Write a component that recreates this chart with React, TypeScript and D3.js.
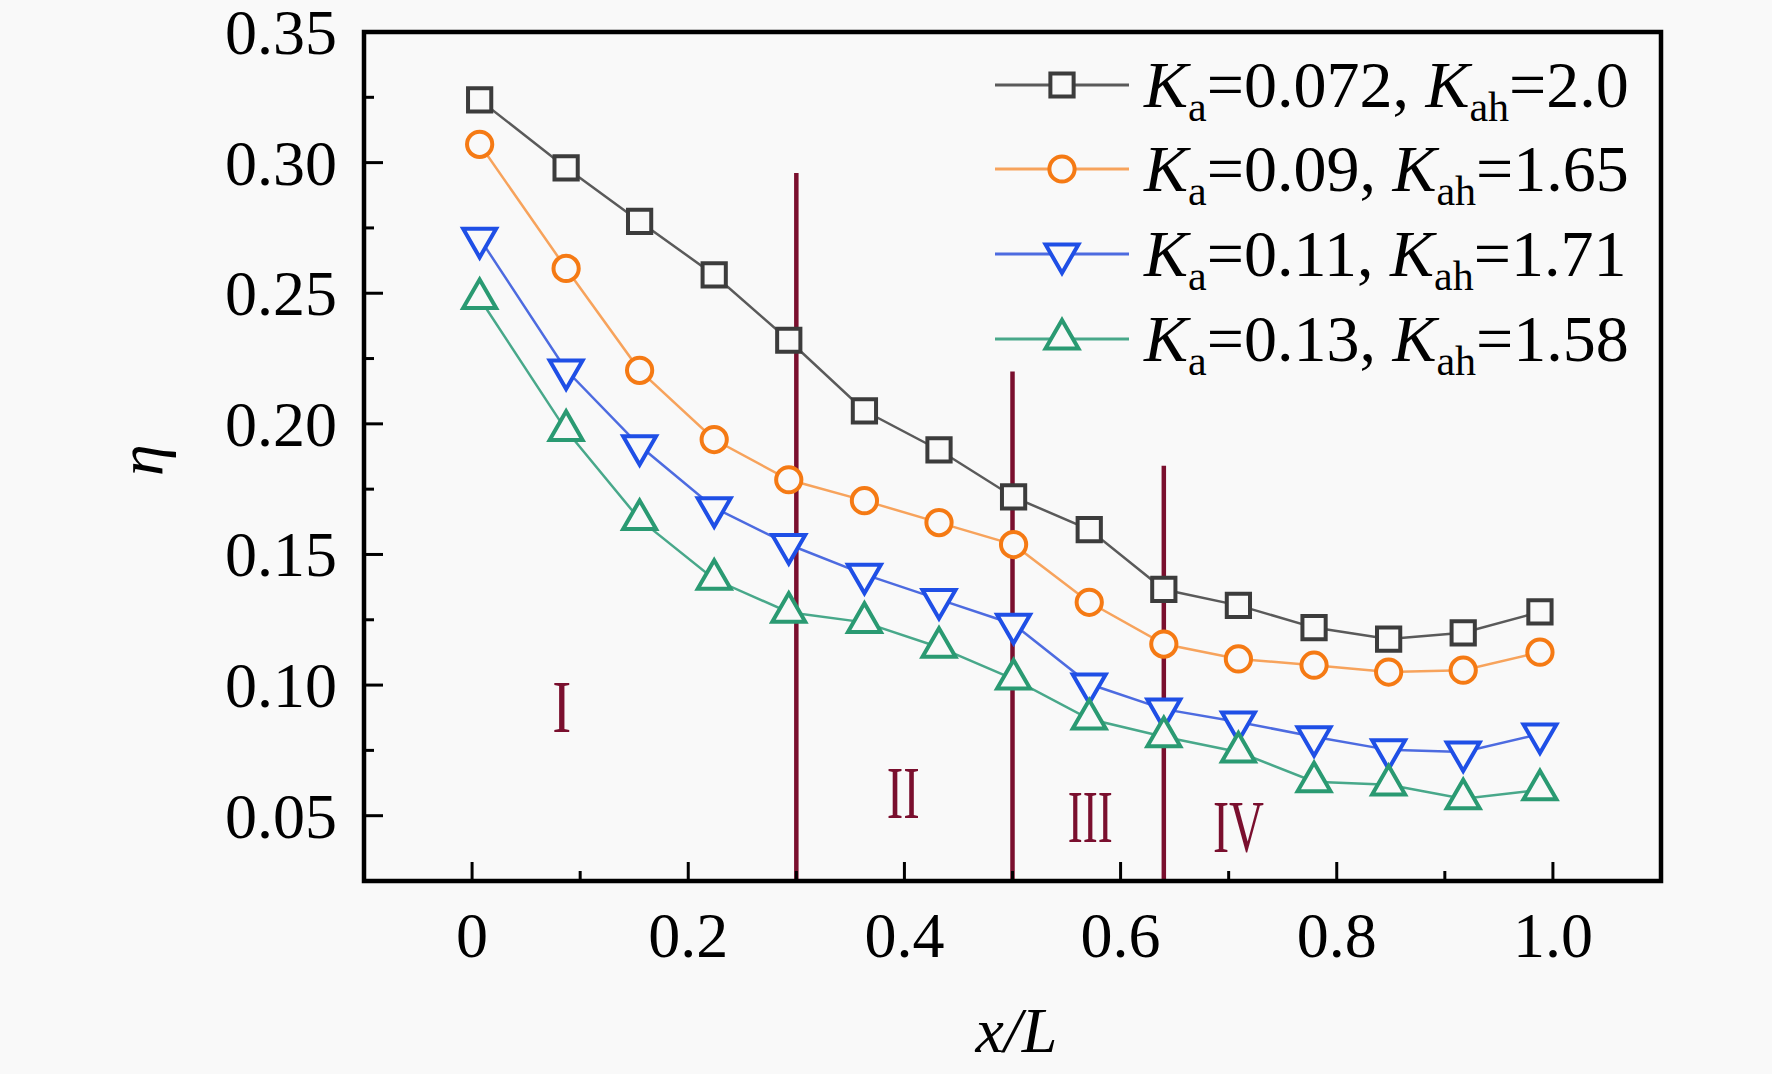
import React from "react";
import * as d3 from "d3";

const xValues = [0.007, 0.087, 0.155, 0.224, 0.293, 0.363, 0.432, 0.501, 0.571, 0.64, 0.709, 0.779, 0.848, 0.917, 0.988];
const seriesBlack = [0.324, 0.298, 0.2775, 0.257, 0.232, 0.205, 0.19, 0.172, 0.1595, 0.1366, 0.1305, 0.122, 0.1176, 0.12, 0.128];
const seriesOrange = [0.307, 0.2595, 0.2205, 0.194, 0.1786, 0.1706, 0.1622, 0.1538, 0.1317, 0.1157, 0.11, 0.1076, 0.105, 0.1057, 0.1126];
const seriesBlue = [0.271, 0.2206, 0.1916, 0.1679, 0.1538, 0.1424, 0.1328, 0.1233, 0.1004, 0.0908, 0.0859, 0.0802, 0.0752, 0.0744, 0.0813];
const seriesGreen = [0.248, 0.1975, 0.1634, 0.1405, 0.1279, 0.124, 0.1145, 0.1023, 0.087, 0.0802, 0.0744, 0.063, 0.0618, 0.0565, 0.0599];

const legendKa = ["0.072", "0.09", "0.11", "0.13"];
const legendKah = ["2.0", "1.65", "1.71", "1.58"];

const xMajorTicks = [0, 0.2, 0.4, 0.6, 0.8, 1.0];
const xTickLabels = ["0", "0.2", "0.4", "0.6", "0.8", "1.0"];
const xMinorTicks = [0.1, 0.3, 0.5, 0.7, 0.9];
const yMajorTicks = [0.05, 0.1, 0.15, 0.2, 0.25, 0.3, 0.35];
const yMinorTicks = [0.075, 0.125, 0.175, 0.225, 0.275, 0.325];

const dividerX = [0.3, 0.5, 0.64];
const dividerTop = [0.296, 0.22, 0.184];
const regionLabels = ["I", "II", "III", "IV"];
const regionX = [0.083, 0.399, 0.572, 0.709];
const regionY = [0.082, 0.049, 0.04, 0.036];
const regionWidths = [19, 33, 45, 51];

const W = 1772;
const H = 1074;
const BG = "#f9f9f9";
const MAROON = "#7a0f2e";
const FONT = "'Liberation Serif', 'Times New Roman', serif";

const series = [
  { values: seriesBlack, line: "#5a5a5a", marker: "#3c3c3c", shape: "square" },
  { values: seriesOrange, line: "#f7a35c", marker: "#f57a14", shape: "circle" },
  { values: seriesBlue, line: "#4d6be0", marker: "#1f4fe6", shape: "down" },
  { values: seriesGreen, line: "#48a88a", marker: "#2a9a72", shape: "up" },
];

function markerPath(shape: string): { d: string; rot: number } {
  if (shape === "square") return { d: d3.symbol(d3.symbolSquare, 540)() as string, rot: 0 };
  if (shape === "circle") return { d: d3.symbol(d3.symbolCircle, 500)() as string, rot: 0 };
  return { d: d3.symbol(d3.symbolTriangle, 470)() as string, rot: shape === "down" ? 180 : 0 };
}

export default function App() {
  const left = 364, right = 1661, top = 32, bottom = 881;
  const x = d3.scaleLinear().domain([-0.1, 1.1]).range([left, right]);
  const y = d3.scaleLinear().domain([0.025, 0.35]).range([bottom, top]);
  const line = d3
    .line<number>()
    .x((_, i) => x(xValues[i]))
    .y((d) => y(d));

  const legendRows = [85, 169, 254, 339];

  return (
    <svg
      width={W}
      height={H}
      style={{ position: "absolute", left: 0, top: 0, background: BG }}
      fontFamily={FONT}
    >
      <rect x={0} y={0} width={W} height={H} fill={BG} />

      {/* divider lines */}
      {dividerX.map((dx, i) => (
        <line
          key={"dv" + i}
          x1={x(dx)}
          x2={x(dx)}
          y1={y(dividerTop[i])}
          y2={bottom}
          stroke={MAROON}
          strokeWidth={4.5}
        />
      ))}

      {/* series lines */}
      {series.map((s, si) => (
        <path key={"l" + si} d={line(s.values) as string} fill="none" stroke={s.line} strokeWidth={2.5} />
      ))}

      {/* markers */}
      {series.map((s, si) => {
        const m = markerPath(s.shape);
        return (
          <g key={"m" + si}>
            {s.values.map((v, i) => (
              <path
                key={i}
                d={m.d}
                transform={`translate(${x(xValues[i])},${y(v)}) rotate(${m.rot})`}
                fill={BG}
                stroke={s.marker}
                strokeWidth={4}
              />
            ))}
          </g>
        );
      })}

      {/* region labels */}
      {regionLabels.map((t, i) => (
        <text
          key={"r" + i}
          x={x(regionX[i])}
          y={y(regionY[i])}
          fontSize={74}
          fill={MAROON}
          textAnchor="middle"
          textLength={regionWidths[i]}
          lengthAdjust="spacingAndGlyphs"
        >
          {t}
        </text>
      ))}

      {/* axes frame */}
      <rect x={left} y={top} width={right - left} height={bottom - top} fill="none" stroke="#000" strokeWidth={4.5} />

      {/* x ticks */}
      {xMajorTicks.map((t, i) => (
        <g key={"xt" + i}>
          <line x1={x(t)} x2={x(t)} y1={bottom} y2={bottom - 19} stroke="#000" strokeWidth={3} />
          <text x={x(t)} y={bottom + 76} fontSize={64} textAnchor="middle" fill="#000">
            {xTickLabels[i]}
          </text>
        </g>
      ))}
      {xMinorTicks.map((t, i) => (
        <line key={"xm" + i} x1={x(t)} x2={x(t)} y1={bottom} y2={bottom - 10} stroke="#000" strokeWidth={3} />
      ))}

      {/* y ticks */}
      {yMajorTicks.map((t, i) => (
        <g key={"yt" + i}>
          <line x1={left} x2={left + 19} y1={y(t)} y2={y(t)} stroke="#000" strokeWidth={3} />
          <text x={left - 27} y={y(t) + 22} fontSize={64} textAnchor="end" fill="#000">
            {t.toFixed(2)}
          </text>
        </g>
      ))}
      {yMinorTicks.map((t, i) => (
        <line key={"ym" + i} x1={left} x2={left + 10} y1={y(t)} y2={y(t)} stroke="#000" strokeWidth={3} />
      ))}

      {/* axis titles */}
      <text x={(left + right) / 2 + 4} y={1052} fontSize={64} fontStyle="italic" textAnchor="middle" fill="#000">
        x/L
      </text>
      <text
        transform={`translate(${162},${460}) rotate(-90)`}
        fontSize={64}
        fontStyle="italic"
        textAnchor="middle"
        fill="#000"
      >
        η
      </text>

      {/* legend */}
      {series.map((s, i) => {
        const cy = legendRows[i];
        const m = markerPath(s.shape);
        return (
          <g key={"lg" + i}>
            <line x1={995} x2={1129} y1={cy} y2={cy} stroke={s.line} strokeWidth={3} />
            <path
              d={m.d}
              transform={`translate(${1062},${cy}) rotate(${m.rot})`}
              fill={BG}
              stroke={s.marker}
              strokeWidth={4}
            />
            <text x={1144} y={cy + 22} fontSize={66} fill="#000">
              <tspan fontStyle="italic">K</tspan>
              <tspan fontSize={42} dy={14}>a</tspan>
              <tspan dy={-14}>{"=" + legendKa[i] + ", "}</tspan>
              <tspan fontStyle="italic">K</tspan>
              <tspan fontSize={42} dy={14}>ah</tspan>
              <tspan dy={-14}>{"=" + legendKah[i]}</tspan>
            </text>
          </g>
        );
      })}
    </svg>
  );
}
